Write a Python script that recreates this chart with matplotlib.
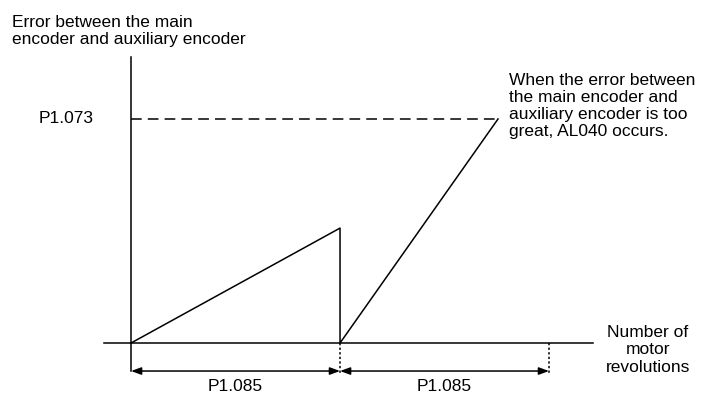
import matplotlib.pyplot as plt

plt.rcParams['font.family'] = ['Liberation Sans', 'DejaVu Sans']

# error curve (x in units of P1.085, y in units of P1.073)
err_x = [0, 1, 1, 1.756]
err_y = [0, 0.513, 0, 1]
threshold = 1.0
period_marks = [0, 1, 2]
period_labels = ['P1.085', 'P1.085']

fig = plt.figure(figsize=(7.02, 3.95), dpi=100)
ax = fig.add_axes([0, 0, 1, 1])
ax.set_xlim(-0.627, 2.732)
ax.set_ylim(-0.232, 1.531)
ax.axis('off')

# axes of the diagram
ax.plot([0, 0], [-0.125, 1.277], color='black', lw=1.1)
ax.plot([-0.129, 2.21], [0, 0], color='black', lw=1.1)

# threshold line
ax.plot([0, err_x[-1]], [threshold, threshold], color='black', lw=1.1,
        dashes=(7, 4))

# error curve
ax.plot(err_x, err_y, color='black', lw=1.1)

# period markers
for xm in period_marks[1:]:
    ax.plot([xm, xm], [0, -0.143], color='black', lw=1.1, ls=(0, (1.5, 1.5)))

fs = 12.5
ls = 1.18

arrow_y = -0.125
for i, lab in enumerate(period_labels):
    x0, x1 = period_marks[i], period_marks[i + 1]
    ax.annotate('', xy=(x1, arrow_y), xytext=(x0, arrow_y),
                arrowprops=dict(arrowstyle='<|-|>,head_length=0.6,head_width=0.22',
                                color='black', lw=1.1, shrinkA=0, shrinkB=0))
    ax.text((x0 + x1) / 2, -0.192, lab, ha='center', va='center', fontsize=fs)

ax.text(-0.569, 1.392, 'Error between the main\nencoder and auxiliary encoder',
        ha='left', va='center', fontsize=fs, linespacing=ls)
ax.text(-0.177, threshold, 'P1.073', ha='right', va='center', fontsize=fs)
ax.text(2.474, -0.031, 'Number of\nmotor\nrevolutions', ha='center', va='center',
        fontsize=fs, linespacing=ls)
ax.text(1.809, 1.058, 'When the error between\nthe main encoder and\n'
        'auxiliary encoder is too\ngreat, AL040 occurs.',
        ha='left', va='center', fontsize=fs, linespacing=ls)

fig.savefig('out.png', dpi=100)
